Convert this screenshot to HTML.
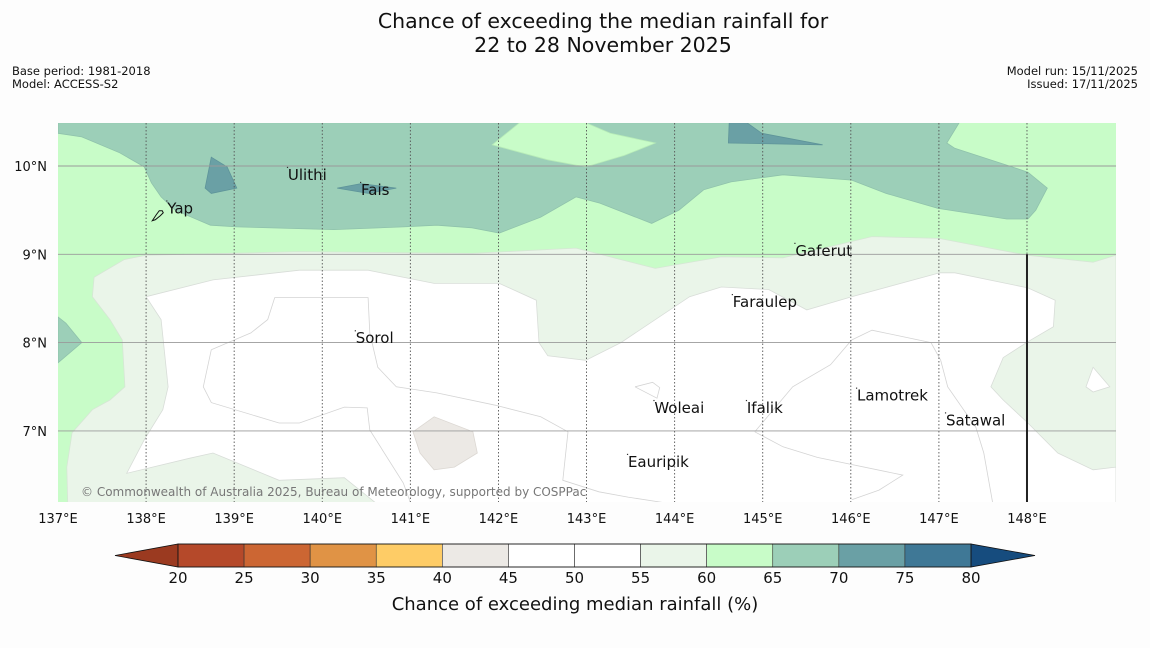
<!DOCTYPE html>
<html><head><meta charset="utf-8">
<style>
html,body{margin:0;padding:0;background:#fdfdfd;}
body{width:1150px;height:644px;overflow:hidden;font-family:"DejaVu Sans","Liberation Sans",sans-serif;}
svg text{font-family:"DejaVu Sans","Liberation Sans",sans-serif;}
</style></head>
<body>
<svg id="chart" width="1150" height="644" xmlns="http://www.w3.org/2000/svg">
<text x="603" y="28" font-size="20.5" text-anchor="middle" fill="#111">Chance of exceeding the median rainfall for</text>
<text x="603" y="52" font-size="20.5" text-anchor="middle" fill="#111">22 to 28 November 2025</text>
<text x="12" y="75" font-size="11.5" fill="#111">Base period: 1981-2018</text>
<text x="12" y="88" font-size="11.5" fill="#111">Model: ACCESS-S2</text>
<text x="1138" y="75" font-size="11.5" text-anchor="end" fill="#111">Model run: 15/11/2025</text>
<text x="1138" y="88" font-size="11.5" text-anchor="end" fill="#111">Issued: 17/11/2025</text>
<defs><clipPath id="mapclip"><rect x="58" y="123" width="1058" height="379"/></clipPath></defs>
<g id="map" clip-path="url(#mapclip)"></g>
<g id="axes"></g>
<g id="cbar"></g>
</svg>
<script>
const lonTicks = [137,138,139,140,141,142,143,144,145,146,147,148];
const latTicks = [7,8,9,10];
const cbLevels = [20,25,30,35,40,45,50,55,60,65,70,75,80];
const cbColors = ["#b5492a","#cc6633","#e09345","#fecc66","#ece9e5","#ffffff","#ffffff","#eaf5e9","#c8fcc8","#9ccfb8","#6aa0a5","#3f7896"];
const cbLow = "#9b3a20", cbHigh = "#164c7e";

const tealRegion = [[137,10.49],[137,10.37],[137.27,10.33],[137.70,10.15],[137.98,9.99],[138.06,9.81],[138.17,9.65],[138.33,9.50],[138.73,9.33],[139.03,9.31],[140.13,9.28],[140.92,9.31],[141.30,9.33],[141.70,9.30],[142.01,9.24],[142.48,9.42],[142.88,9.65],[143.15,9.58],[143.74,9.35],[144.05,9.50],[144.33,9.73],[144.64,9.82],[145.23,9.90],[146.01,9.84],[146.40,9.69],[146.99,9.52],[147.77,9.40],[148.01,9.40],[148.10,9.50],[148.23,9.75],[148.01,9.93],[147.77,10.01],[147.18,10.20],[147.09,10.26],[147.23,10.49]];
const greenTopPatch = [[142.24,10.49],[142.99,10.49],[143.27,10.37],[143.78,10.26],[143.43,10.12],[142.99,9.99],[142.56,10.07],[141.93,10.24]];
const darkTop = [[144.62,10.49],[144.61,10.26],[145.68,10.24],[144.99,10.37],[144.82,10.49]];
const darkYap = [[138.74,10.10],[138.92,9.99],[139.03,9.75],[138.74,9.69],[138.67,9.75]];
const darkFais = [[140.17,9.75],[140.44,9.80],[140.84,9.75],[140.52,9.69]];
const tealLeft = [[137,8.29],[137.09,8.22],[137.27,8.00],[137,7.77]];
const paleRegion = [[137.11,6.19],[137.10,6.59],[137.16,6.98],[137.39,7.24],[137.59,7.35],[137.76,7.50],[137.73,8.03],[137.59,8.26],[137.39,8.52],[137.41,8.74],[137.75,8.94],[138.00,8.99],[139.74,9.03],[141.70,9.01],[142.88,9.07],[143.39,8.94],[143.78,8.84],[144.53,8.97],[145.23,8.96],[146.24,9.20],[147.00,9.18],[148.00,8.99],[148.75,8.91],[149.01,8.99],[149.01,6.19]];
const whiteRegion = [[138.00,8.52],[138.76,8.71],[139.74,8.82],[140.52,8.82],[141.27,8.67],[142.01,8.67],[142.43,8.48],[142.46,8.00],[142.56,7.85],[142.99,7.80],[143.39,8.00],[144.17,8.52],[144.53,8.63],[145.07,8.60],[145.50,8.37],[146.01,8.52],[147.01,8.79],[147.18,8.79],[148.01,8.62],[148.32,8.48],[148.30,8.18],[148.01,8.01],[147.73,7.83],[147.59,7.50],[147.73,7.35],[148.01,7.09],[148.35,6.75],[148.75,6.56],[149.01,6.59],[149.01,6.19],[140.60,6.19],[140.25,6.47],[139.51,6.44],[138.76,6.75],[138.49,6.69],[137.78,6.52],[137.98,6.90],[138.19,7.24],[138.25,7.50],[138.17,8.26]];
const whiteTriangle = [[148.75,7.72],[148.67,7.50],[148.75,7.44],[148.94,7.50]];
const beigePatch = [[141.03,6.99],[141.27,7.16],[141.71,6.99],[141.76,6.75],[141.50,6.59],[141.27,6.56],[141.11,6.75]];
const contour1 = [[138.74,7.92],[139.19,8.11],[139.38,8.26],[139.46,8.51],[140.52,8.51],[140.54,8.11],[140.63,7.72],[140.84,7.50],[141.30,7.43],[141.97,7.29],[142.48,7.16],[142.79,6.99],[142.73,6.44],[143.14,6.31],[143.47,6.25],[143.86,6.19]];
const contour2 = [[138.74,7.92],[138.65,7.50],[138.74,7.32],[139.51,7.09],[139.74,7.09],[140.25,7.27],[140.51,7.26],[140.54,7.01],[140.92,6.41],[141.00,6.19]];
const contour3 = [[144.91,6.99],[145.34,7.50],[145.77,7.75],[146.01,8.03],[146.24,8.14],[146.91,8.00],[147.02,7.80],[147.10,7.50],[147.42,7.04],[147.51,6.75],[147.61,6.19]];
const contour4 = [[144.91,6.99],[145.23,6.82],[145.62,6.70],[146.59,6.50],[146.32,6.33],[146.01,6.22]];
const contourWoleai = [[143.55,7.50],[143.75,7.55],[143.83,7.49],[143.80,7.37],[143.55,7.50]];
const placeNames = ["Ulithi","Fais","Yap","Sorol","Gaferut","Faraulep","Woleai","Ifalik","Lamotrek","Satawal","Eauripik"];
const placeLon = [139.61,140.44,138.24,140.38,145.37,144.66,143.77,144.82,146.07,147.08,143.47];
const placeLat = [9.90,9.73,9.52,8.05,9.04,8.46,7.26,7.26,7.40,7.12,6.65];

const NS = "http://www.w3.org/2000/svg";
function xScale(lon){ return 58 + (lon-137)*88.09; }
function yScale(lat){ return 166 + (10-lat)*88.3; }
function cbX(v){ return 178 + (v-20)*(971-178)/60; }
function mk(tag, attrs, parent){ const e=document.createElementNS(NS,tag); for(const k in attrs) e.setAttribute(k,attrs[k]); parent.appendChild(e); return e; }
function pts(arr){ return arr.map(p=>xScale(p[0]).toFixed(1)+","+yScale(p[1]).toFixed(1)).join(" "); }

const map = document.getElementById('map');
const bg = mk('rect',{x:58,y:123,width:1058,height:379,fill:"#c8fcc8"},map);



const layers = [
 [tealRegion,"#9ccfb8","#8fc2ab","region-65-70-north"],
 [greenTopPatch,"#c8fcc8","#b8ecb8","region-60-65-patch"],
 [darkTop,"#6aa0a5","#5e9499","region-70-75-north"],
 [darkYap,"#6aa0a5","#5e9499","region-70-75-yap"],
 [darkFais,"#6aa0a5","#5e9499","region-70-75-fais"],
 [tealLeft,"#9ccfb8","#8fc2ab","region-65-70-west"],
 [paleRegion,"#eaf5e9","#d6e6d5","region-55-60"],
 [whiteRegion,"#ffffff","#d8ddd8","region-45-55"],
 [whiteTriangle,"#ffffff","#d8ddd8","region-45-55-east"],
 [beigePatch,"#ece9e5","#dcd8d3","region-40-45"]
];
for(const L of layers){
  const p = mk('polygon',{points:pts(L[0]),fill:L[1],stroke:L[2],"stroke-width":0.8},map);
  
  
}
const contours = [[contour1,"contour-50-a"],[contour2,"contour-50-b"],[contour3,"contour-50-c"],[contour4,"contour-50-d"],[contourWoleai,"contour-50-woleai"]];
for(const c of contours){
  const l = mk('polyline',{points:pts(c[0]),fill:"none",stroke:"#d4d4d4","stroke-width":0.8},map);
  
  
}
for(const lat of latTicks){
  const g = mk('line',{x1:58,x2:1116,y1:yScale(lat),y2:yScale(lat),stroke:"#9a9a9a","stroke-width":0.9},map);
  
  
}
for(const lon of lonTicks){
  if(lon===137) continue;
  const g = mk('line',{x1:xScale(lon),x2:xScale(lon),y1:123,y2:502,stroke:"#555","stroke-width":0.9,"stroke-dasharray":"1.5,2"},map);
  
  
}
const bl = mk('line',{x1:xScale(148),x2:xScale(148),y1:yScale(9),y2:502,stroke:"#222","stroke-width":2},map);



// Yap island outline
const yap = mk('path',{d:`M${xScale(138.07)},${yScale(9.38)} l4,-6 l3,-4 l3,0 l1,2 l-3,3 l-5,4 z`,fill:"none",stroke:"#111","stroke-width":1},map);



for(let i=0;i<placeNames.length;i++){
  const x=xScale(placeLon[i]), y=yScale(placeLat[i]);
  const d = mk('rect',{x:x-1,y:y-8,width:1.2,height:1.2,fill:"#333"},map);
  
  
  const t = mk('text',{x:x,y:y+5,"font-size":15,fill:"#111"},map);
  t.textContent = placeNames[i];
  
  
}
const cp = mk('text',{x:81,y:496,"font-size":12,fill:"#777"},map);
cp.textContent = "© Commonwealth of Australia 2025, Bureau of Meteorology, supported by COSPPac";



const axes = document.getElementById('axes');
for(const lon of lonTicks){
  const t = mk('text',{x:xScale(lon),y:523,"font-size":13,"text-anchor":"middle",fill:"#111"},axes);
  t.textContent = lon+"°E";
  
  
}
for(const lat of latTicks){
  const t = mk('text',{x:47,y:yScale(lat)+5,"font-size":13,"text-anchor":"end",fill:"#111"},axes);
  t.textContent = lat+"°N";
  
  
}

const cb = document.getElementById('cbar');
const lowT = mk('polygon',{points:`115,555.5 ${cbX(20)},544 ${cbX(20)},567`,fill:cbLow,stroke:"#111","stroke-width":0.8},cb);


const highT = mk('polygon',{points:`1035,555.5 ${cbX(80)},544 ${cbX(80)},567`,fill:cbHigh,stroke:"#111","stroke-width":0.8},cb);


for(let i=0;i<cbColors.length;i++){
  const r = mk('rect',{x:cbX(cbLevels[i]),y:544,width:cbX(cbLevels[i+1])-cbX(cbLevels[i]),height:23,fill:cbColors[i],stroke:"#333","stroke-width":0.6},cb);
  
  
}
const fr = mk('rect',{x:cbX(20),y:544,width:cbX(80)-cbX(20),height:23,fill:"none",stroke:"#111","stroke-width":0.8},cb);


for(const v of cbLevels){
  const t = mk('text',{x:cbX(v),y:583,"font-size":15,"text-anchor":"middle",fill:"#111"},cb);
  t.textContent = v;
  
  
}
const ct = mk('text',{x:575,y:610,"font-size":18,"text-anchor":"middle",fill:"#111"},cb);
ct.textContent = "Chance of exceeding median rainfall (%)";


</script>
</body></html>
